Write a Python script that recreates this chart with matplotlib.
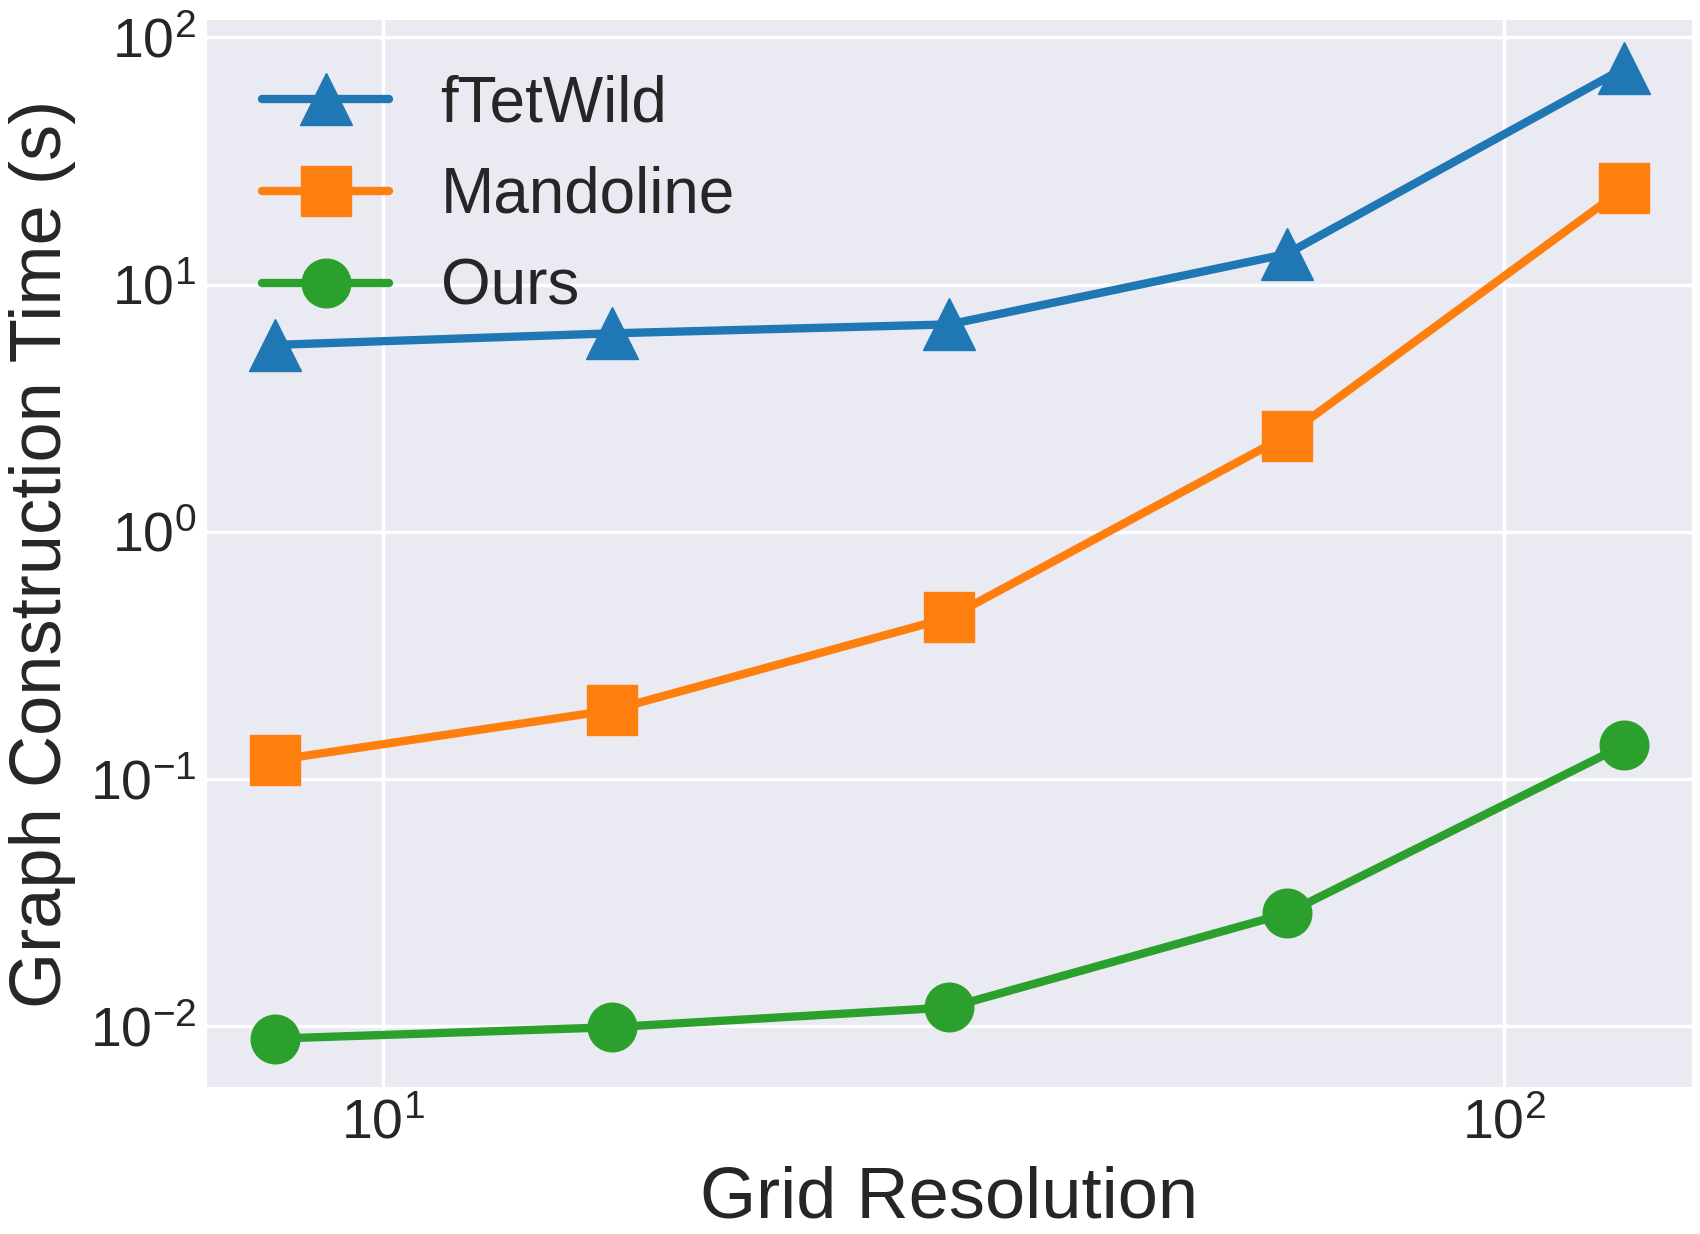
import numpy as np
import matplotlib
matplotlib.use('Agg')
import matplotlib.pyplot as plt

# grid resolutions and timings (seconds)
resolution = [8, 16, 32, 64, 128]
ftetwild = [5.7, 6.35, 6.9, 13.3, 75.0]
mandoline = [0.119, 0.19, 0.45, 2.45, 24.5]
ours = [0.0089, 0.0099, 0.0119, 0.0286, 0.137]

plt.style.use('seaborn-v0_8-darkgrid')
plt.rcParams['font.family'] = ['Liberation Sans', 'DejaVu Sans']
plt.rcParams['mathtext.fontset'] = 'custom'
plt.rcParams['mathtext.rm'] = 'Liberation Sans'
plt.rcParams['mathtext.it'] = 'Liberation Sans:italic'
plt.rcParams['mathtext.bf'] = 'Liberation Sans:bold'

fig, ax = plt.subplots(figsize=(17, 12.34), dpi=100)
fig.subplots_adjust(left=0.122, right=0.995, top=0.984, bottom=0.119)

lw = 6
ax.plot(resolution, ftetwild, marker='^', markersize=38, linewidth=lw,
        color='#1f77b4', label='fTetWild')
ax.plot(resolution, mandoline, marker='s', markersize=36, linewidth=lw,
        color='#ff7f0e', label='Mandoline')
ax.plot(resolution, ours, marker='o', markersize=35, linewidth=lw,
        color='#2ca02c', label='Ours')

ax.set_xscale('log')
ax.set_yscale('log')
ax.grid(True, which='major', color='white', linewidth=2.5)
ax.grid(False, which='minor')
ax.tick_params(axis='both', which='major', labelsize=40, pad=8)
ax.tick_params(which='minor', length=0)

ax.set_xlabel('Grid Resolution', fontsize=52, labelpad=11)
ax.set_ylabel('Graph Construction Time (s)', fontsize=52, labelpad=10)

ax.legend(loc='upper left', fontsize=46, frameon=False, borderaxespad=0.45)

fig.savefig('out.png', dpi=100)
